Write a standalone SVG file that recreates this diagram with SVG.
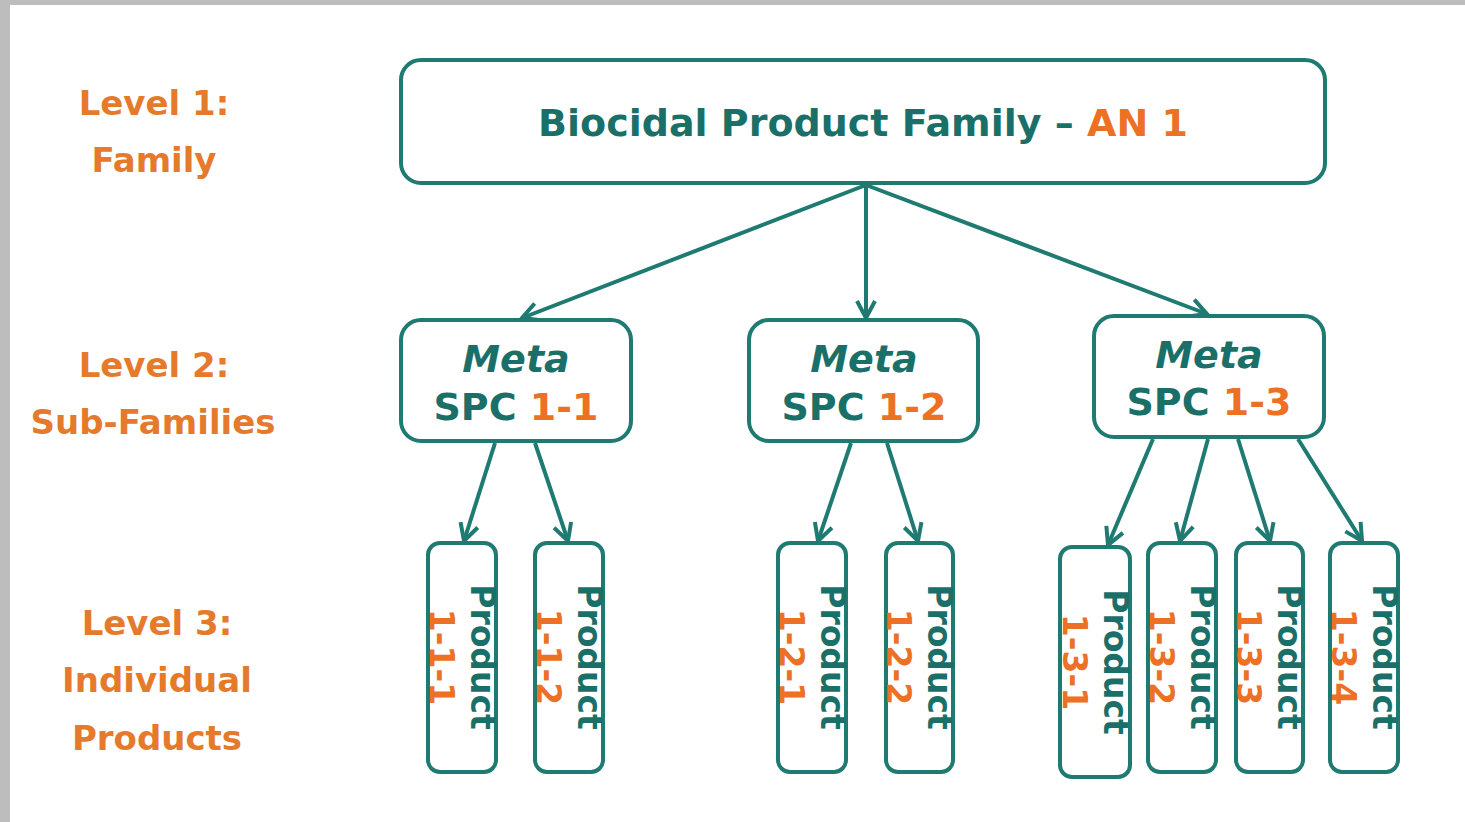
<svg xmlns="http://www.w3.org/2000/svg" width="1465" height="822" viewBox="0 0 1465 822">
<style>
.box{fill:#ffffff;stroke:#1f7a72;stroke-width:4}
.conn{stroke:#1f7a72;stroke-width:4;fill:none;marker-end:url(#arr)}
.t{font-family:"DejaVu Sans",Verdana,sans-serif;font-weight:bold;fill:#1b6f69}
.o{fill:#ec7124}
.lvl{font-family:"DejaVu Sans",Verdana,sans-serif;font-weight:bold;fill:#e57a2c;font-size:34px;text-anchor:middle}
.big{font-size:38px;text-anchor:middle}
.meta{font-size:38px;text-anchor:middle}
.prod{font-size:33px;text-anchor:middle}
</style>
<defs>
<marker id="arr" viewBox="0 0 24 24" refX="21" refY="12" markerWidth="24" markerHeight="24" markerUnits="userSpaceOnUse" orient="auto">
<path d="M4,3 L21,12 L4,21" fill="none" stroke="#1f7a72" stroke-width="4"/>
</marker>
</defs>
<rect x="0" y="0" width="1465" height="822" fill="#ffffff"/>
<rect x="0" y="0" width="1465" height="5" fill="#bdbdbd"/>
<rect x="0" y="0" width="10" height="822" fill="#bdbdbd"/>

<g id="labels">
<text class="lvl" x="154" y="115">Level 1:</text>
<text class="lvl" x="154" y="172">Family</text>
<text class="lvl" x="154" y="377">Level 2:</text>
<text class="lvl" x="153" y="434">Sub-Families</text>
<text class="lvl" x="157" y="635">Level 3:</text>
<text class="lvl" x="157" y="692">Individual</text>
<text class="lvl" x="157" y="750">Products</text>
</g>

<g id="connectors">
<line class="conn" x1="866" y1="185" x2="522" y2="318"/>
<line class="conn" x1="866" y1="185" x2="866" y2="318"/>
<line class="conn" x1="866" y1="185" x2="1207" y2="314"/>
<line class="conn" x1="495" y1="443" x2="464" y2="541"/>
<line class="conn" x1="535" y1="443" x2="568" y2="541"/>
<line class="conn" x1="851" y1="443" x2="818" y2="541"/>
<line class="conn" x1="887" y1="443" x2="918" y2="541"/>
<line class="conn" x1="1153" y1="439" x2="1108" y2="545"/>
<line class="conn" x1="1208" y1="439" x2="1180" y2="541"/>
<line class="conn" x1="1238" y1="439" x2="1270" y2="541"/>
<line class="conn" x1="1298" y1="439" x2="1362" y2="541"/>
</g>

<g id="family">
<rect class="box" x="401" y="60" width="924" height="123" rx="20"/>
<text class="t big" x="863" y="136">Biocidal Product Family – <tspan class="o">AN 1</tspan></text>
</g>

<g id="spc-1-1">
<rect class="box" x="401" y="320" width="230" height="121" rx="20"/>
<text class="t meta" x="516" y="372" font-style="italic">Meta</text>
<text class="t meta" x="516" y="420">SPC <tspan class="o">1-1</tspan></text>
</g>
<g id="spc-1-2">
<rect class="box" x="749" y="320" width="229" height="121" rx="20"/>
<text class="t meta" x="864" y="372" font-style="italic">Meta</text>
<text class="t meta" x="864" y="420">SPC <tspan class="o">1-2</tspan></text>
</g>
<g id="spc-1-3">
<rect class="box" x="1094" y="316" width="230" height="121" rx="20"/>
<text class="t meta" x="1209" y="368" font-style="italic">Meta</text>
<text class="t meta" x="1209" y="415">SPC <tspan class="o">1-3</tspan></text>
</g>

<g id="product-1-1-1">
<rect class="box" x="428" y="543" width="68" height="229" rx="12"/>
<text class="t prod" transform="translate(462,657) rotate(90)"><tspan x="0" y="-9">Product</tspan><tspan class="o" x="0" y="32">1-1-1</tspan></text>
</g>
<g id="product-1-1-2">
<rect class="box" x="535" y="543" width="68" height="229" rx="12"/>
<text class="t prod" transform="translate(569,657) rotate(90)"><tspan x="0" y="-9">Product</tspan><tspan class="o" x="0" y="32">1-1-2</tspan></text>
</g>
<g id="product-1-2-1">
<rect class="box" x="778" y="543" width="68" height="229" rx="12"/>
<text class="t prod" transform="translate(812,657) rotate(90)"><tspan x="0" y="-9">Product</tspan><tspan class="o" x="0" y="32">1-2-1</tspan></text>
</g>
<g id="product-1-2-2">
<rect class="box" x="886" y="543" width="67" height="229" rx="12"/>
<text class="t prod" transform="translate(919,657) rotate(90)"><tspan x="0" y="-9">Product</tspan><tspan class="o" x="0" y="32">1-2-2</tspan></text>
</g>
<g id="product-1-3-1">
<rect class="box" x="1060" y="547" width="70" height="230" rx="12"/>
<text class="t prod" transform="translate(1095,662) rotate(90)"><tspan x="0" y="-9">Product</tspan><tspan class="o" x="0" y="32">1-3-1</tspan></text>
</g>
<g id="product-1-3-2">
<rect class="box" x="1148" y="543" width="68" height="229" rx="12"/>
<text class="t prod" transform="translate(1182,657) rotate(90)"><tspan x="0" y="-9">Product</tspan><tspan class="o" x="0" y="32">1-3-2</tspan></text>
</g>
<g id="product-1-3-3">
<rect class="box" x="1236" y="543" width="67" height="229" rx="12"/>
<text class="t prod" transform="translate(1269,657) rotate(90)"><tspan x="0" y="-9">Product</tspan><tspan class="o" x="0" y="32">1-3-3</tspan></text>
</g>
<g id="product-1-3-4">
<rect class="box" x="1330" y="543" width="68" height="229" rx="12"/>
<text class="t prod" transform="translate(1364,657) rotate(90)"><tspan x="0" y="-9">Product</tspan><tspan class="o" x="0" y="32">1-3-4</tspan></text>
</g>
</svg>
